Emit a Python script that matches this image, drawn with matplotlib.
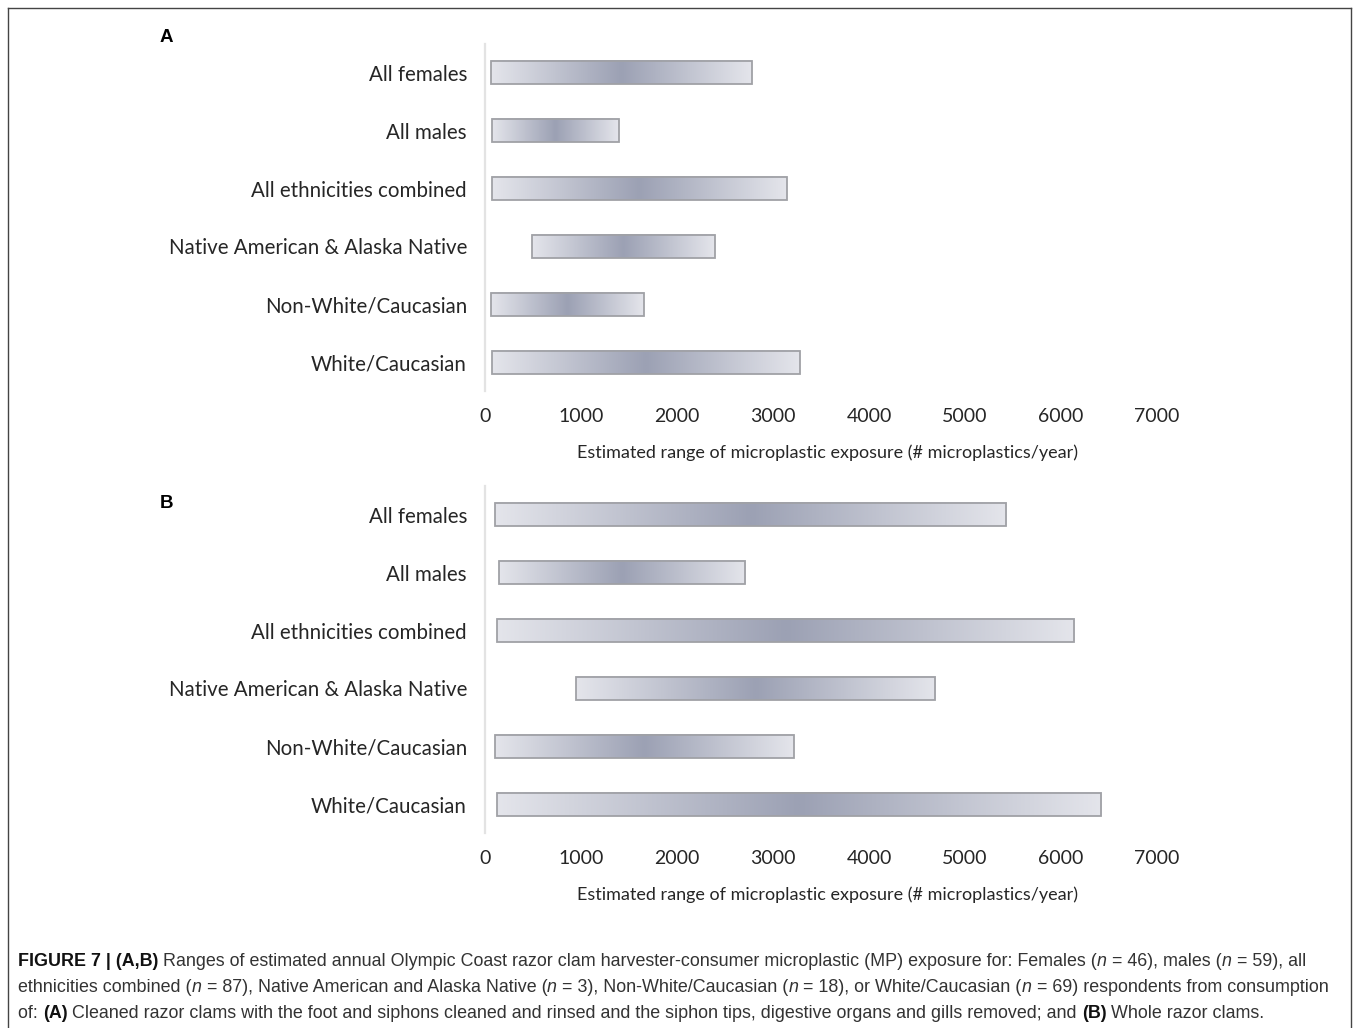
import numpy as np
import matplotlib
matplotlib.use('Agg')
import matplotlib.pyplot as plt
from matplotlib.colors import LinearSegmentedColormap
from matplotlib.font_manager import FontProperties

# data (microplastics / year)
groups = ['All females', 'All males', 'All ethnicities combined',
          'Native American & Alaska Native', 'Non-White/Caucasian', 'White/Caucasian']
cleaned_low = [62, 73, 73, 489, 62, 73]
cleaned_high = [2778, 1394, 3143, 2393, 1655, 3278]
whole_low = [104, 141, 125, 947, 109, 125]
whole_high = [5432, 2706, 6139, 4688, 3222, 6420]
xticks = [0, 1000, 2000, 3000, 4000, 5000, 6000, 7000]
xlabel = 'Estimated range of microplastic exposure (# microplastics/year)'

W, H = 1358, 1028
fig = plt.figure(figsize=(W / 100, H / 100), dpi=100)
label_font = ['Lato', 'DejaVu Sans']
cap_font = ['Liberation Sans Narrow', 'Liberation Sans', 'DejaVu Sans']

cmap = LinearSegmentedColormap.from_list('clam', ['#e4e5eb', '#9ca1b4'])
grad = (1 - np.abs(np.linspace(-1, 1, 256))).reshape(1, -1)


def px_axes(left, top, right, bottom):
    return fig.add_axes([left / W, 1 - bottom / H, (right - left) / W, (bottom - top) / H])


def panel(ax, lows, highs, letter, letter_y):
    ypos = np.arange(len(groups))
    h = 0.4
    for y, lo, hi in zip(ypos, lows, highs):
        ax.imshow(grad, cmap=cmap, extent=(lo, hi, y + h / 2, y - h / 2),
                  aspect='auto', interpolation='bilinear', zorder=2)
    ax.barh(ypos, np.array(highs) - np.array(lows), left=lows, height=h,
            facecolor='none', edgecolor='#a0a1a6', linewidth=1.3, zorder=3)
    ax.set_xlim(0, 7000)
    ax.set_ylim(len(groups) - 0.5, -0.5)
    ax.set_yticks(ypos)
    ax.set_yticklabels(groups, fontsize=14.8, family=label_font, color='#262626')
    ax.set_xticks(xticks)
    ax.set_xticklabels([str(t) for t in xticks], fontsize=14, family=label_font, color='#262626')
    ax.tick_params(axis='both', length=0)
    ax.tick_params(axis='y', pad=13)
    ax.tick_params(axis='x', pad=12)
    for s in ['top', 'right', 'bottom']:
        ax.spines[s].set_visible(False)
    ax.spines['left'].set_color('#e3e3e3')
    ax.spines['left'].set_linewidth(1.6)
    ax.set_xlabel(xlabel, fontsize=13, family=label_font, color='#262626', labelpad=13)
    ax.xaxis.set_label_coords(0.509, -0.155)
    fig.text(160 / W, 1 - letter_y / H, letter, fontsize=13.5, fontweight='bold',
             family='Liberation Sans', va='center', ha='left')


axA = px_axes(485, 44, 1157, 391)
panel(axA, cleaned_low, cleaned_high, 'A', 38)
axB = px_axes(485, 486, 1157, 833)
panel(axB, whole_low, whole_high, 'B', 503)

# outer frame (open at the bottom, cut off by the page)
frame = dict(color='#444444', linewidth=1.0, transform=fig.transFigure, clip_on=False)
fig.add_artist(plt.Line2D([8 / W, 8 / W], [0, 1 - 8 / H], **frame))
fig.add_artist(plt.Line2D([8 / W, 1351 / W], [1 - 8 / H, 1 - 8 / H], **frame))
fig.add_artist(plt.Line2D([1351 / W, 1351 / W], [0, 1 - 8 / H], **frame))

# caption with bold / italic runs
cap_lines = [
    [('FIGURE 7 | (A,B)', 'bold'),
     (' Ranges of estimated annual Olympic Coast razor clam harvester-consumer microplastic (MP) exposure for: Females (', 'normal'),
     ('n', 'italic'), (' = 46), males (', 'normal'), ('n', 'italic'), (' = 59), all', 'normal')],
    [('ethnicities combined (', 'normal'), ('n', 'italic'),
     (' = 87), Native American and Alaska Native (', 'normal'), ('n', 'italic'),
     (' = 3), Non-White/Caucasian (', 'normal'), ('n', 'italic'),
     (' = 18), or White/Caucasian (', 'normal'), ('n', 'italic'),
     (' = 69) respondents from consumption', 'normal')],
    [('of: ', 'normal'), ('(A)', 'bold'),
     (' Cleaned razor clams with the foot and siphons cleaned and rinsed and the siphon tips, digestive organs and gills removed; and ', 'normal'),
     ('(B)', 'bold'), (' Whole razor clams.', 'normal')],
]
cap_y = [962, 988, 1014]
cap_size = 12.9
renderer = fig.canvas.get_renderer()


def run_props(style):
    fp = FontProperties(family=cap_font, size=cap_size,
                        weight='bold' if style == 'bold' else 'normal',
                        style='italic' if style == 'italic' else 'normal')
    return fp


for line, yy in zip(cap_lines, cap_y):
    x = 18
    for s, style in line:
        fp = run_props(style)
        color = '#111111' if style == 'bold' else '#333333'
        fig.text(x / W, 1 - yy / H, s, fontproperties=fp, color=color, va='center', ha='left')
        w = (renderer.get_text_width_height_descent('|' + s + '|', fp, ismath=False)[0]
             - renderer.get_text_width_height_descent('||', fp, ismath=False)[0])
        x += w

fig.savefig('out.png', dpi=100)
